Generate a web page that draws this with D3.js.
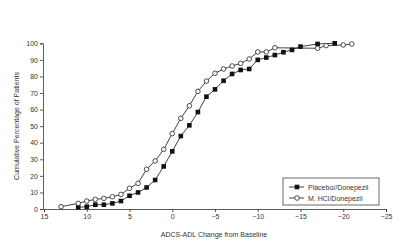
<!DOCTYPE html>
<html>
<head>
<meta charset="utf-8">
<script src="https://cdn.jsdelivr.net/npm/d3@7"></script>
<style>
  body { margin: 0; background: #fff; }
  text { font-family: "Liberation Sans", Arial, sans-serif; fill: #333; }
  .axis path, .axis line { stroke: #333; stroke-width: 0.8; }
</style>
</head>
<body>
<div id="chart"></div>
<script>
// x = change from baseline, y = cumulative %
var placebo_x = [11, 10, 9, 8, 7, 6, 5, 4, 3, 2, 1, 0, -1, -2, -3, -4, -5, -6, -7, -8, -9, -10, -11, -12, -13, -14, -15, -17, -19];
var placebo_y = [1, 1.4, 2.6, 2.6, 3.4, 4.8, 8, 10, 13, 17.5, 25.7, 34.8, 44, 50.5, 58.5, 67.8, 72.2, 77.4, 81.5, 83.9, 84.5, 90, 91.4, 92.9, 94.6, 96, 98, 99.6, 100];
var mhcl_x = [13, 11, 10, 9, 8, 7, 6, 5, 4, 3, 2, 1, 0, -1, -2, -3, -4, -5, -6, -7, -8, -9, -10, -11, -12, -17, -18, -20, -21];
var mhcl_y = [1.4, 3.4, 4.8, 5.8, 6.4, 7.4, 8.8, 12.5, 15.5, 24, 29, 36, 45.5, 54.7, 62.3, 71, 77.2, 81.9, 84.5, 86.3, 87.9, 90.5, 94.8, 94.8, 97.3, 97, 98.6, 99, 99.6];
var x_ticks = [15, 10, 5, 0, -5, -10, -15, -20, -25];
var y_ticks = [0, 10, 20, 30, 40, 50, 60, 70, 80, 90, 100];
var series_names = ["Placebo//Donepezil", "M. HCl/Donepezil"];

var width = 400, height = 242;

var svg = d3.select("#chart").append("svg")
            .attr("width", width)
            .attr("height", height);

var x = d3.scaleLinear().domain([15, -25]).range([44, 386]);
var y = d3.scaleLinear().domain([0, 100]).range([209, 43.3]);

var x_axis = d3.axisBottom(x).tickValues(x_ticks).tickSize(3).tickPadding(2);
var y_axis = d3.axisLeft(y).tickValues(y_ticks).tickSize(3).tickPadding(2);

svg.append("g").attr("class", "axis")
   .attr("transform", "translate(0,209)")
   .call(x_axis)
   .selectAll("text").style("font-size", "7px");

svg.append("g").attr("class", "axis")
   .attr("transform", "translate(43,0)")
   .call(y_axis)
   .selectAll("text").style("font-size", "7px");

svg.append("text")
   .attr("x", 214).attr("y", 237)
   .attr("text-anchor", "middle")
   .style("font-size", "7px")
   .text("ADCS-ADL Change from Baseline");

svg.append("text")
   .attr("transform", "translate(19,126) rotate(-90)")
   .attr("text-anchor", "middle")
   .style("font-size", "7px")
   .text("Cumulative Percentage of Patients");

var placebo = placebo_x.map(function(v, i) { return {x: v, y: placebo_y[i]}; });
var mhcl = mhcl_x.map(function(v, i) { return {x: v, y: mhcl_y[i]}; });

var line = d3.line()
             .x(function(d) { return x(d.x); })
             .y(function(d) { return y(d.y); });

svg.append("path").datum(placebo)
   .attr("d", line).attr("fill", "none")
   .attr("stroke", "#111").attr("stroke-width", 0.8);

svg.append("path").datum(mhcl)
   .attr("d", line).attr("fill", "none")
   .attr("stroke", "#111").attr("stroke-width", 0.8);

svg.selectAll("rect.placebo")
   .data(placebo).enter()
   .append("rect").attr("class", "placebo")
   .attr("x", function(d) { return x(d.x) - 2.3; })
   .attr("y", function(d) { return y(d.y) - 2.3; })
   .attr("width", 4.6).attr("height", 4.6)
   .attr("fill", "#111");

svg.selectAll("circle.mhcl")
   .data(mhcl).enter()
   .append("circle").attr("class", "mhcl")
   .attr("cx", function(d) { return x(d.x); })
   .attr("cy", function(d) { return y(d.y); })
   .attr("r", 2.3)
   .attr("fill", "#fff")
   .attr("stroke", "#222").attr("stroke-width", 0.8);

// legend
var legend = svg.append("g").attr("transform", "translate(283,178)");
legend.append("rect")
      .attr("width", 96).attr("height", 27)
      .attr("fill", "#fff").attr("stroke", "#444").attr("stroke-width", 0.8);

series_names.forEach(function(name, i) {
  var ly = 9 + i * 11;
  legend.append("line")
        .attr("x1", 6).attr("x2", 21).attr("y1", ly).attr("y2", ly)
        .attr("stroke", "#111").attr("stroke-width", 0.8);
  if (i === 0) {
    legend.append("rect").attr("x", 11.7).attr("y", ly - 2.3)
          .attr("width", 4.6).attr("height", 4.6).attr("fill", "#111");
  } else {
    legend.append("circle").attr("cx", 14).attr("cy", ly).attr("r", 2.3)
          .attr("fill", "#fff").attr("stroke", "#222").attr("stroke-width", 0.8);
  }
  legend.append("text")
        .attr("x", 25).attr("y", ly)
        .attr("dominant-baseline", "central")
        .style("font-size", "7px")
        .text(name);
});
</script>
</body>
</html>
